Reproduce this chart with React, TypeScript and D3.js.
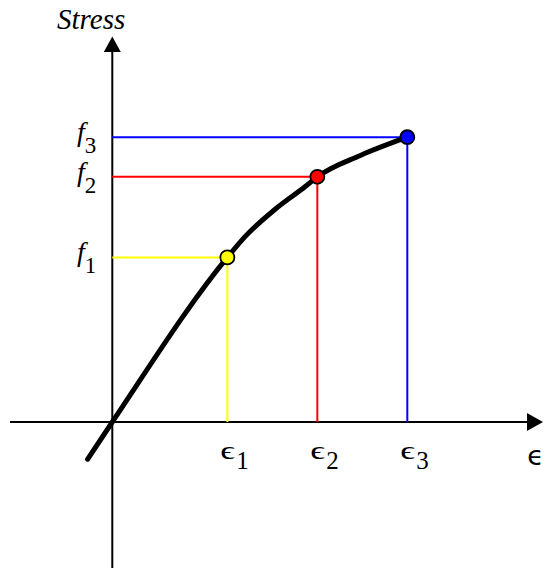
import React from "react";
import * as d3 from "d3";

// Marked strain / stress pairs (arbitrary units on a 0..100 scale)
const strainMarks = [39, 69.5, 100];
const stressMarks = [57.8, 86.1, 100];
const markColors = ["#ffff00", "#ff0000", "#0000ff"];
const markSubs = ["1", "2", "3"];

// Stress-strain curve samples: linear through the origin, then softening
const curveStrain = [-8.4, 0, 39, 45, 55.2, 65.3, 69.5, 84.1, 100];
const curveStress = [-13.1, 0, 57.8, 65.1, 74.7, 82.6, 86.1, 93.6, 100];

const W = 553;
const H = 571;
const SERIF = "Liberation Serif";

export default function App() {
  const x = d3.scaleLinear().domain([0, 100]).range([112.3, 407.3]);
  const y = d3.scaleLinear().domain([0, 100]).range([422, 137.2]);

  const line = d3
    .line<number>()
    .x((_, i) => x(curveStrain[i]))
    .y((d) => y(d))
    .curve(d3.curveMonotoneX);

  const x0 = x(0);
  const y0 = y(0);

  return (
    <svg width={W} height={H} style={{ position: "absolute", left: 0, top: 0 }}>
      {/* axes */}
      <line x1={x0} y1={568} x2={x0} y2={50} stroke="#000" strokeWidth={2} />
      <path d={`M${x0},36.5 L${x0 - 8.5},52 L${x0 + 8.5},52 Z`} fill="#000" />
      <line x1={10} y1={y0} x2={528} y2={y0} stroke="#000" strokeWidth={2} />
      <path d={`M543,${y0} L527,${y0 - 9} L527,${y0 + 9} Z`} fill="#000" />

      {/* guide lines to each marked point */}
      {strainMarks.map((s, i) => (
        <g key={"g" + i}>
          <line
            x1={x0}
            y1={y(stressMarks[i])}
            x2={x(s)}
            y2={y(stressMarks[i])}
            stroke={markColors[i]}
            strokeWidth={2}
          />
          <line
            x1={x(s)}
            y1={y(stressMarks[i])}
            x2={x(s)}
            y2={y0}
            stroke={markColors[i]}
            strokeWidth={2}
          />
        </g>
      ))}

      {/* stress-strain curve */}
      <path
        d={line(curveStress) || ""}
        fill="none"
        stroke="#000"
        strokeWidth={5}
        strokeLinecap="round"
        strokeLinejoin="round"
      />

      {/* marked points */}
      {strainMarks.map((s, i) => (
        <circle
          key={"c" + i}
          cx={x(s)}
          cy={y(stressMarks[i])}
          r={7}
          fill={markColors[i]}
          stroke="#000"
          strokeWidth={1.8}
        />
      ))}

      {/* stress labels f1..f3 */}
      {stressMarks.map((f, i) => (
        <text key={"f" + i} fontFamily={SERIF} x={77} y={y(f) + 4} fontSize={28}>
          <tspan fontStyle="italic">f</tspan>
          <tspan fontSize={23} dy={12}>
            {markSubs[i]}
          </tspan>
        </text>
      ))}

      {/* strain labels */}
      {strainMarks.map((s, i) => (
        <g key={"e" + i} transform={`translate(${x(s) - 7},458.5)`}>
          <text fontFamily={SERIF} transform="scale(1.45,1)" fontSize={25}>
            ϵ
          </text>
          <text fontFamily={SERIF} x={16} y={10.5} fontSize={25}>
            {markSubs[i]}
          </text>
        </g>
      ))}

      {/* axis titles */}
      <text fontFamily={SERIF} x={57} y={29} fontStyle="italic" fontSize={29}>
        Stress
      </text>
      <text
        fontFamily="DejaVu Sans"
        x={535.5}
        y={465}
        textAnchor="middle"
        fontSize={27}
      >
        ϵ
      </text>
    </svg>
  );
}
